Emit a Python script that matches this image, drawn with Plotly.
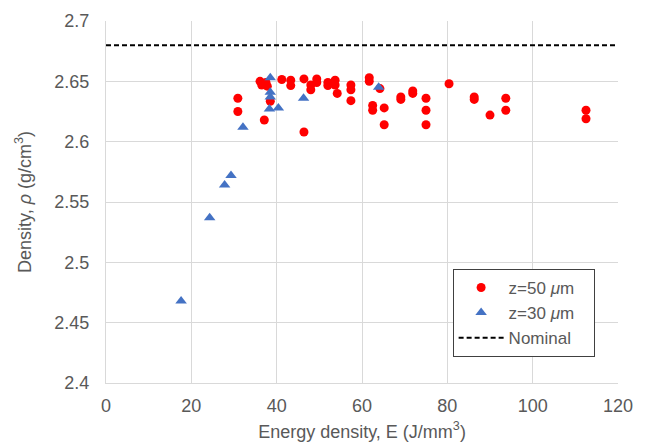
import plotly.graph_objects as go

# z = 50 um series (energy density J/mm^3, density g/cm^3)
e50 = [30.9, 30.9, 37.1, 36.1, 36.5, 37.5, 37.8, 38.5, 41.2, 43.3, 43.3, 46.4, 46.4,
       48.0, 48.0, 49.4, 49.4, 52.0, 52.0, 53.7, 53.7, 54.2, 57.4, 57.4, 57.4,
       61.7, 61.7, 62.5, 62.5, 64.2, 65.2, 65.2, 69.1, 69.1, 71.9, 71.9,
       75.0, 75.0, 75.0, 80.4, 86.3, 86.3, 90.0, 93.7, 93.7, 112.5, 112.5]
rho50 = [2.636, 2.625, 2.618, 2.650, 2.647, 2.649, 2.646, 2.6335, 2.6515, 2.651, 2.6465, 2.652, 2.608,
         2.647, 2.643, 2.652, 2.649, 2.649, 2.6465, 2.651, 2.647, 2.640, 2.647, 2.643, 2.634,
         2.653, 2.650, 2.630, 2.626, 2.644, 2.628, 2.614, 2.637, 2.635, 2.642, 2.640,
         2.636, 2.626, 2.614, 2.648, 2.637, 2.635, 2.622, 2.636, 2.626, 2.626, 2.619]

# z = 30 um series
e30 = [17.6, 24.3, 27.8, 29.3, 32.1, 38.5, 38.5, 38.5, 38.3, 40.4, 46.3, 63.9]
rho30 = [2.468, 2.537, 2.564, 2.572, 2.612, 2.653, 2.641, 2.637, 2.627, 2.628, 2.636, 2.645]

# nominal density
nominal_x = [0, 120]
nominal_rho = [2.68, 2.68]

x_ticks = [0, 20, 40, 60, 80, 100, 120]
x_ticktext = ["0", "20", "40", "60", "80", "100", "120"]
y_ticks = [2.4, 2.45, 2.5, 2.55, 2.6, 2.65, 2.7]
y_ticktext = ["2.4", "2.45", "2.5", "2.55", "2.6", "2.65", "2.7"]

FONT = "Liberation Sans, Arial, Helvetica, sans-serif"
TXT = "#595959"
GRID = "#d9d9d9"
PAD = "\u00a0\u00a0\u00a0"

fig = go.Figure()
fig.add_trace(go.Scatter(x=e50, y=rho50, mode="markers", name="z=50 <i>μ</i>m" + PAD,
                         marker=dict(symbol="circle", size=9, color="#ff0000")))
fig.add_trace(go.Scatter(x=e30, y=rho30, mode="markers", name="z=30 <i>μ</i>m" + PAD,
                         marker=dict(symbol="triangle-up", size=10, color="#4472c4")))
fig.add_trace(go.Scatter(x=nominal_x, y=nominal_rho, mode="lines", name="Nominal",
                         line=dict(color="black", width=2, dash="5px,3px")))

fig.update_layout(
    width=646, height=446,
    margin=dict(l=106, r=28, t=21, b=63, autoexpand=False),
    paper_bgcolor="white", plot_bgcolor="white",
    font=dict(family=FONT, size=18, color=TXT),
    showlegend=True,
    legend=dict(x=0.677, y=0.315, xanchor="left", yanchor="top",
                bgcolor="white", bordercolor="#404040", borderwidth=1,
                font=dict(family=FONT, size=17, color=TXT),
                itemwidth=45, tracegroupgap=0),
)
fig.update_xaxes(range=[0, 120], tickvals=x_ticks, ticktext=x_ticktext,
                 showgrid=True, gridcolor=GRID, gridwidth=1,
                 showline=True, linecolor=GRID, linewidth=1, mirror=False,
                 zeroline=False, ticks="", ticklabelstandoff=6,
                 title=dict(text="Energy density, E (J/mm<sup>3</sup>)", standoff=10,
                            font=dict(family=FONT, size=18, color=TXT)))
fig.update_yaxes(range=[2.4, 2.7], tickvals=y_ticks, ticktext=y_ticktext,
                 showgrid=True, gridcolor=GRID, gridwidth=1,
                 showline=True, linecolor=GRID, linewidth=1,
                 zeroline=False, ticks="", ticklabelstandoff=12,
                 title=dict(text="Density, <i>ρ</i> (g/cm<sup>3</sup>)", standoff=18,
                            font=dict(family=FONT, size=18, color=TXT)))

fig.write_html("out.html")
